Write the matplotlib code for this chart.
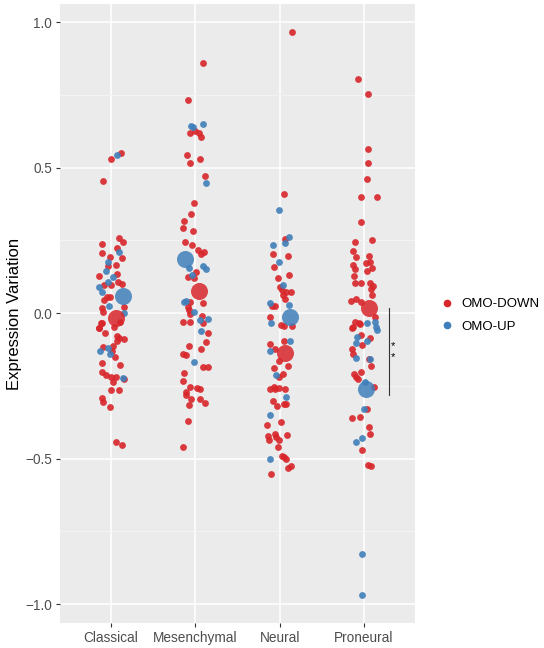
import matplotlib
matplotlib.use("Agg")
import matplotlib.pyplot as plt
from matplotlib.lines import Line2D

plt.rcParams['font.family'] = ['Liberation Sans', 'DejaVu Sans']

# data
categories = ['Classical', 'Mesenchymal', 'Neural', 'Proneural']
groups = ['OMO-DOWN', 'OMO-UP']

classical_down = [0.530, 0.549, 0.455, 0.259, 0.243, 0.236, 0.224, 0.205, 0.192, 0.188, 0.163, 0.165, 0.135,
                  0.127, 0.108, 0.100, 0.096, 0.095, 0.056, 0.055, 0.045, 0.021, 0.018, 0.004, -0.033, -0.050,
                  -0.030, -0.035, -0.070, -0.053, -0.049, -0.079, -0.084, -0.090, -0.095, -0.118, -0.113, -0.130,
                  -0.151, -0.173, -0.178, -0.204, -0.214, -0.221, -0.220, -0.236, -0.228, -0.263, -0.266, -0.292,
                  -0.306, -0.322, -0.442, -0.454]
classical_down_jit = [0.00, 0.12, -0.09, 0.09, 0.14, -0.11, 0.07, -0.11, -0.01, 0.13, -0.04, 0.06, 0.07,
                      -0.14, 0.08, 0.13, -0.08, 0.00, -0.05, -0.01, -0.08, 0.15, -0.10, -0.09, -0.11, -0.14,
                      0.11, -0.12, -0.07, -0.14, 0.04, 0.07, 0.09, 0.15, 0.07, -0.09, 0.03, 0.01,
                      0.05, -0.11, 0.11, -0.10, -0.06, 0.00, 0.06, 0.03, 0.15, 0.00, 0.10, -0.11,
                      -0.09, -0.01, 0.06, 0.13]
classical_up = [0.542, 0.211, 0.176, 0.143, 0.125, 0.108, 0.089, 0.073, 0.024, 0.000, -0.132, -0.120, -0.139, -0.222]
classical_up_jit = [0.07, 0.10, -0.03, -0.06, 0.02, -0.04, -0.14, -0.11, -0.02, 0.15, -0.13, -0.04, -0.01, 0.14]

mesenchymal_down = [0.859, 0.733, 0.619, 0.624, 0.620, 0.606, 0.542, 0.514, 0.530, 0.471, 0.379, 0.339, 0.316,
                    0.294, 0.282, 0.245, 0.233, 0.216, 0.203, 0.209, 0.141, 0.123, 0.120, 0.035, 0.039, 0.022,
                    0.010, -0.004, -0.010, -0.030, -0.031, -0.033, -0.069, -0.100, -0.112, -0.125, -0.140, -0.144,
                    -0.185, -0.185, -0.207, -0.234, -0.254, -0.257, -0.260, -0.270, -0.282, -0.297, -0.296, -0.309,
                    -0.315, -0.370, -0.459]
mesenchymal_down_jit = [0.09, -0.09, -0.06, 0.00, 0.04, 0.07, -0.10, -0.06, 0.06, 0.11, -0.01, -0.05, -0.13,
                        -0.14, -0.03, -0.12, -0.04, 0.03, 0.07, 0.10, 0.01, -0.09, -0.02, 0.09, -0.06, -0.09,
                        -0.07, -0.06, 0.08, -0.14, -0.06, 0.09, 0.15, 0.13, -0.07, 0.07, -0.15, -0.11,
                        0.09, 0.15, -0.13, -0.15, -0.06, 0.02, 0.06, -0.11, -0.11, -0.05, 0.06, 0.12,
                        -0.08, -0.09, -0.15]
mesenchymal_up = [0.643, 0.639, 0.651, 0.447, 0.154, 0.162, 0.150, 0.130, 0.037, 0.040, 0.003, -0.024, -0.022,
                  -0.061, -0.168]
mesenchymal_up_jit = [-0.05, -0.03, 0.09, 0.13, -0.08, 0.09, 0.13, -0.04, -0.13, -0.11, -0.02, 0.06, 0.15,
                      0.07, -0.02]

neural_down = [0.965, 0.408, 0.253, 0.203, 0.196, 0.158, 0.131, 0.119, 0.090, 0.079, 0.071, 0.072, 0.061,
               0.047, 0.024, 0.024, -0.014, -0.041, -0.045, -0.045, -0.107, -0.125, -0.097, -0.166, -0.183,
               -0.190, -0.209, -0.221, -0.260, -0.253, -0.262, -0.259, -0.261, -0.301, -0.319, -0.314, -0.314,
               -0.375, -0.384, -0.423, -0.436, -0.415, -0.427, -0.436, -0.419, -0.459, -0.491, -0.496, -0.502,
               -0.532, -0.525, -0.554]
neural_down_jit = [0.15, 0.05, 0.06, -0.08, 0.10, -0.07, 0.11, -0.02, 0.00, 0.03, 0.13, 0.07, 0.04,
                   0.06, -0.09, -0.05, -0.11, 0.02, 0.05, 0.15, -0.12, -0.05, 0.05, -0.01, 0.10,
                   -0.07, 0.04, -0.01, -0.11, -0.07, -0.05, -0.01, 0.06, -0.08, -0.03, 0.05, 0.07,
                   0.02, -0.15, -0.14, -0.13, -0.06, -0.04, -0.01, 0.09, -0.02, 0.03, 0.05, 0.07,
                   0.10, 0.13, -0.10]
neural_up = [0.354, 0.262, 0.242, 0.235, 0.175, 0.096, 0.034, 0.029, -0.033, -0.132, -0.097, -0.213, -0.290,
             -0.351, -0.502]
neural_up_jit = [-0.01, 0.11, 0.06, -0.08, -0.01, 0.04, -0.12, 0.11, -0.10, -0.12, 0.12, -0.04, 0.07,
                 -0.11, -0.11]

proneural_down = [0.805, 0.753, 0.565, 0.514, 0.459, 0.400, 0.400, 0.314, 0.251, 0.245, 0.214, 0.191, 0.196,
                  0.164, 0.152, 0.171, 0.174, 0.154, 0.145, 0.128, 0.104, 0.104, 0.102, 0.094, 0.081, 0.062,
                  0.041, 0.047, 0.039, -0.013, -0.031, -0.035, -0.050, -0.047, -0.038, -0.075, -0.087, -0.111,
                  -0.124, -0.139, -0.157, -0.183, -0.202, -0.209, -0.219, -0.228, -0.253, -0.331, -0.361, -0.356,
                  -0.393, -0.415, -0.472, -0.522, -0.525]
proneural_down_jit = [-0.07, 0.05, 0.05, 0.05, 0.04, -0.04, 0.15, -0.04, 0.10, -0.11, -0.13, -0.10, 0.06,
                      -0.13, -0.11, 0.02, 0.07, 0.09, 0.04, -0.12, -0.11, -0.04, 0.07, 0.11, 0.08, 0.10,
                      -0.15, -0.09, -0.04, 0.13, -0.11, -0.06, -0.14, -0.13, -0.05, -0.04, 0.07, -0.02,
                      -0.14, -0.13, 0.06, 0.08, -0.04, -0.12, -0.09, -0.07, 0.12, 0.03, -0.14, -0.05,
                      0.06, 0.07, -0.02, 0.05, 0.08]
proneural_up = [-0.034, -0.031, -0.047, -0.058, -0.081, -0.097, -0.102, -0.156, -0.157, -0.236, -0.328, -0.431,
                -0.444, -0.828, -0.970]
proneural_up_jit = [0.04, 0.13, 0.14, 0.15, -0.08, 0.04, -0.09, -0.10, 0.07, 0.01, 0.00, -0.02,
                    -0.09, -0.03, -0.03]

# group means (large points)
mean_down = [-0.017, 0.076, -0.137, 0.017]
mean_down_jit = [0.06, 0.04, 0.06, 0.06]
mean_up = [0.058, 0.186, -0.014, -0.261]
mean_up_jit = [0.14, -0.12, 0.12, 0.02]

down_vals = [classical_down, mesenchymal_down, neural_down, proneural_down]
down_jits = [classical_down_jit, mesenchymal_down_jit, neural_down_jit, proneural_down_jit]
up_vals = [classical_up, mesenchymal_up, neural_up, proneural_up]
up_jits = [classical_up_jit, mesenchymal_up_jit, neural_up_jit, proneural_up_jit]

red = '#D8262A'
blue = '#3F7FBA'

fig = plt.figure(figsize=(5.44, 6.48), dpi=100)
ax = fig.add_axes([0.1108, 0.0386, 0.6515, 0.9552])
ax.set_facecolor('#EBEBEB')

for i in range(len(categories)):
    ax.scatter([i + j for j in down_jits[i]], down_vals[i], s=24, color=red, alpha=0.9, linewidths=0, zorder=3)
    ax.scatter([i + j for j in up_jits[i]], up_vals[i], s=24, color=blue, alpha=0.9, linewidths=0, zorder=3)

ax.scatter([i + j for i, j in enumerate(mean_down_jit)], mean_down, s=150, color=red, alpha=0.85,
           linewidths=0, zorder=4)
ax.scatter([i + j for i, j in enumerate(mean_up_jit)], mean_up, s=150, color=blue, alpha=0.85,
           linewidths=0, zorder=4)

# significance bracket for Proneural
ax.plot([3.30, 3.30], [mean_down[3], -0.28], color='#333333', lw=0.8, zorder=5)
ax.text(3.345, -0.113, '*', fontsize=8, ha='center', va='center', zorder=5)
ax.text(3.345, -0.151, '*', fontsize=8, ha='center', va='center', zorder=5)

ax.set_xlim(-0.6, 3.6)
ax.set_ylim(-1.065, 1.062)
ax.set_xticks(range(len(categories)))
ax.set_xticklabels(categories)
ax.set_yticks([-1.0, -0.5, 0.0, 0.5, 1.0])
ax.set_yticklabels(['\u22121.0', '\u22120.5', '0.0', '0.5', '1.0'])
ax.set_yticks([-0.75, -0.25, 0.25, 0.75], minor=True)
ax.grid(which='major', color='white', lw=1.1, zorder=0)
ax.grid(which='minor', axis='y', color='#F5F5F5', lw=0.6, zorder=0)
ax.set_axisbelow(True)
for sp in ax.spines.values():
    sp.set_visible(False)
ax.tick_params(which='major', length=3, color='#333333', labelcolor='#4D4D4D', labelsize=9.8, pad=3)
ax.tick_params(which='minor', length=0)
ax.set_ylabel('Expression Variation', fontsize=12, va='center')
ax.yaxis.set_label_coords(-0.128, 0.5)

handles = [Line2D([], [], marker='o', ls='', color=red, markersize=4.5),
           Line2D([], [], marker='o', ls='', color=blue, markersize=4.5)]
fig.legend(handles, groups, loc='center left', bbox_to_anchor=(0.785, 0.513), frameon=False,
           fontsize=9.5, handletextpad=0.5, handlelength=1.2, labelspacing=0.8)

fig.savefig('out.png', dpi=100)
